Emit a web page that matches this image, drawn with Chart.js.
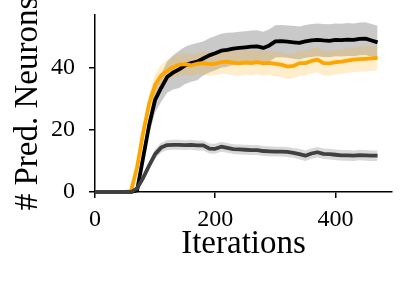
<!DOCTYPE html>
<html>
<head>
<meta charset="utf-8">
<script src="https://cdn.jsdelivr.net/npm/chart.js@4"></script>
<style>
  html, body { margin: 0; padding: 0; background: #fff; }
  #wrap { width: 407px; height: 287px; }
</style>
</head>
<body>
<div id="wrap"><canvas id="myChart" width="407" height="287"></canvas></div>
<script>
// iterations
const iters = [0, 10, 20, 30, 40, 50, 60, 70, 80, 90, 100, 110, 120, 130, 140, 150, 160, 170, 180, 190,
  200, 210, 220, 230, 240, 250, 260, 270, 280, 290, 300, 310, 320, 330, 340, 350, 360, 370, 380, 390,
  400, 410, 420, 430, 440, 450, 460, 470];

// black series
const blackMean = [0, 0, 0, 0, 0, 0, 0, 0.5, 11, 21.5, 29.7, 33.5, 37, 38.5, 39.5, 40.8, 41.5, 42, 43, 44,
  44.7, 45.5, 45.8, 46.2, 46.4, 46.6, 46.8, 46.9, 46.4, 47.2, 48.5, 48.6, 48.4, 48.2, 48, 48.5, 48.8, 49, 48.8, 48.7,
  49, 48.9, 49.1, 49, 49.3, 49.4, 48.8, 48.2];
const blackSd = [0, 0, 0, 0, 0, 0, 0, 0.5, 2, 3, 4, 4.5, 5, 5.5, 6, 6, 6, 6, 5.5, 5.5,
  5.5, 5.5, 5.5, 5.2, 5.2, 5.2, 5.2, 5.2, 5.2, 5.2, 5.2, 5.2, 5.2, 5.3, 5.3, 5.3, 5.3, 5.3, 5.3, 5.3,
  5.3, 5.3, 5.3, 5.3, 5.3, 5.3, 5.3, 5.3];

// orange series
const orangeMean = [0, 0, 0, 0, 0, 0, 0.3, 8, 19, 28.4, 34.5, 37.5, 39, 40.2, 41, 41.2, 40.8, 41.3, 41.5, 41.2,
  41.3, 41.8, 42, 41.6, 41.4, 41.7, 41.5, 41.8, 41.4, 41.6, 41.3, 41, 40.4, 40.6, 41.5, 41.5, 42.2, 42.6, 41.5, 41.4,
  41.8, 42, 42.3, 42.6, 42.8, 42.9, 43, 43.2];
const orangeSd = [0, 0, 0, 0, 0, 0, 0.3, 1.5, 2.5, 3, 3.5, 3.5, 3.5, 3.5, 3.5, 3.5, 3.5, 3.5, 3.8, 3.8,
  3.8, 3.8, 4, 4, 4, 4, 4, 4, 4, 4, 4, 4, 4, 4, 4, 4, 4, 4, 4, 4,
  4, 4, 4, 4, 4, 4, 4, 4];

// dark gray series
const grayMean = [0, 0, 0, 0, 0, 0, 0, 1.2, 4.5, 8.5, 12.2, 14.3, 15.1, 15.2, 15.2, 15.1, 15.2, 15, 15, 14,
  13.9, 14.6, 14.2, 13.8, 13.7, 13.6, 13.5, 13.5, 13.2, 13.1, 13, 13, 12.9, 12.6, 12.2, 11.7, 12.4, 12.8, 12.3, 12.2,
  12, 11.8, 11.8, 11.7, 11.9, 11.8, 11.7, 11.7];
const graySd = [0, 0, 0, 0, 0, 0, 0, 0.5, 1, 1.2, 1.6, 1.6, 1.6, 1.6, 1.6, 1.6, 1.6, 1.6, 1.6, 1.6,
  1.6, 1.6, 1.6, 1.6, 1.6, 1.6, 1.6, 1.6, 1.6, 1.6, 1.6, 1.6, 1.6, 1.6, 1.7, 1.7, 1.7, 1.7, 1.7, 1.7,
  1.7, 1.7, 1.7, 1.7, 1.7, 1.7, 1.7, 1.7];

const xTicks = [0, 200, 400];
const yTicks = [0, 20, 40];

const FONT = "'Liberation Serif', 'Times New Roman', serif";

function pts(mean, sd, k) {
  return iters.map((x, i) => ({ x: x, y: mean[i] + k * sd[i] }));
}

function band(mean, sd, color, fillTo, order) {
  return [
    { data: pts(mean, sd, 1), borderWidth: 0, pointRadius: 0, backgroundColor: color,
      fill: fillTo, order: order },
    { data: pts(mean, sd, -1), borderWidth: 0, pointRadius: 0, fill: false, order: order }
  ];
}

function line(mean, color, order) {
  return { data: pts(mean, mean.map(() => 0), 0), borderColor: color, borderWidth: 3.8,
    pointRadius: 0, fill: false, clip: false, order: order, borderJoinStyle: "round" };
}

const ctx = document.getElementById("myChart");
const myChart = new Chart(ctx, {
  type: "line",
  data: {
    datasets: [
      ...band(blackMean, blackSd, "rgba(0,0,0,0.21)", 1, 9),
      ...band(orangeMean, orangeSd, "rgba(255,165,0,0.2)", 3, 8),
      ...band(grayMean, graySd, "rgba(64,64,64,0.2)", 5, 7),
      line(blackMean, "#000000", 3),
      line(orangeMean, "#FFA500", 2),
      line(grayMean, "#404040", 1),
    ],
  },
  options: {
    responsive: false,
    animation: false,
    events: [],
    layout: { padding: { top: 15, right: 15, left: 0, bottom: 0 } },
    plugins: { legend: { display: false }, tooltip: { enabled: false } },
    scales: {
      x: {
        type: "linear",
        min: 0,
        max: 494,
        afterFit: (s) => { s.height = 95; s.paddingLeft = 0; s.paddingRight = 0; },
        afterBuildTicks: (s) => { s.ticks = xTicks.map((v) => ({ value: v })); },
        grid: { drawOnChartArea: false, drawTicks: true, tickLength: 6, color: "#000", lineWidth: 1.5 },
        border: { display: true, color: "#000", width: 1.5 },
        ticks: { color: "#000", padding: 7, maxRotation: 0, font: { family: FONT, size: 24 } },
        title: { display: true, text: "Iterations", color: "#000",
          font: { family: FONT, size: 33, lineHeight: 1 }, padding: { top: 0, bottom: 26 } },
      },
      y: {
        min: 0,
        max: 57,
        afterFit: (s) => { s.width = 95; s.paddingTop = 0; s.paddingBottom = 0; },
        afterBuildTicks: (s) => { s.ticks = yTicks.map((v) => ({ value: v })); },
        grid: { drawOnChartArea: false, drawTicks: true, tickLength: 6, color: "#000", lineWidth: 1.5 },
        border: { display: true, color: "#000", width: 1.5 },
        ticks: { color: "#000", padding: 14, font: { family: FONT, size: 24 } },
        title: { display: true, text: "# Pred. Neurons", color: "#000",
          font: { family: FONT, size: 33, lineHeight: 1 }, padding: { top: 12, bottom: 0 } },
      },
    },
  },
});
</script>
</body>
</html>
